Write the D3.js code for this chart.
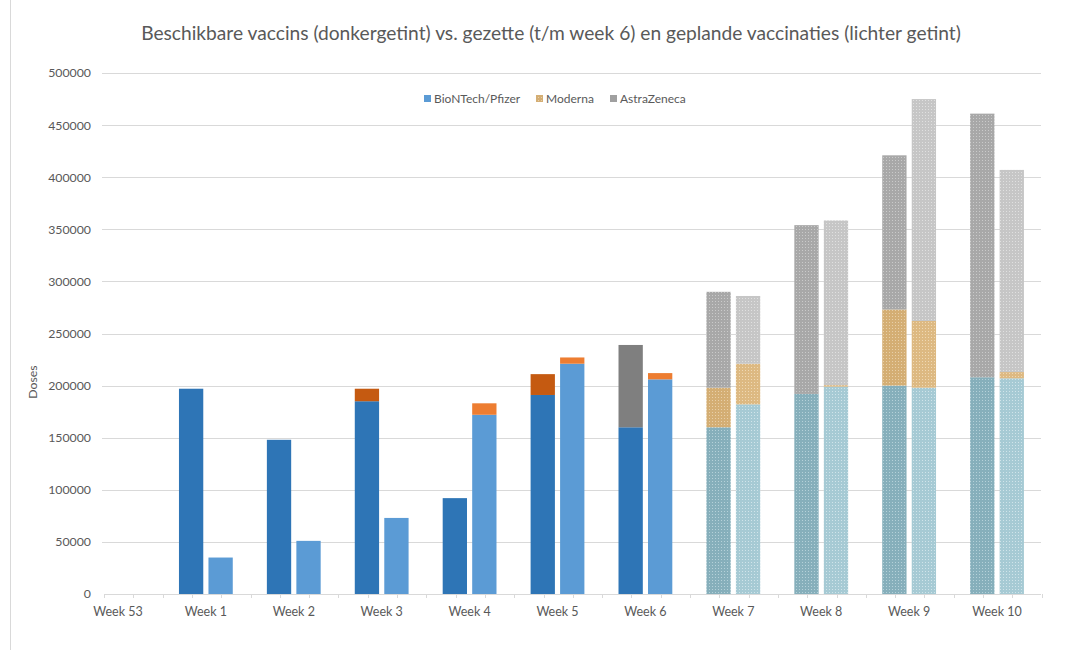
<!DOCTYPE html>
<html><head><meta charset="utf-8">
<script src="https://cdn.jsdelivr.net/npm/d3@7"></script>
<style>
html,body{margin:0;padding:0;background:#fff;}
svg{display:block;font-family:Lato,"Open Sans",sans-serif;}
</style></head>
<body><svg id="chart" width="1071" height="650"></svg>
<script>
const title = "Beschikbare vaccins (donkergetint) vs. gezette (t/m week 6) en geplande vaccinaties (lichter getint)";
const weeks = ["Week 53","Week 1","Week 2","Week 3","Week 4","Week 5","Week 6","Week 7","Week 8","Week 9","Week 10"];
const plannedWeeks = ["Week 7","Week 8","Week 9","Week 10"];
const vaccines = ["BioNTech/Pfizer","Moderna","AstraZeneca"];
// available (dark)
const pfizerAvailable  = [0,197000,148000,185000, 92000,191000,160000,160000,192000,200000,208000];
const modernaAvailable = [0,     0,     0, 12000,     0, 20000,     0, 38000,     0, 73000,     0];
const astraAvailable   = [0,     0,     0,     0,     0,     0, 79000, 92000,162000,148000,253000];
// administered / planned (light)
const pfizerGiven  = [0, 35000, 51000, 73000,172000,221000,206000,182000,199000,198000,207000];
const modernaGiven = [0,     0,     0,     0, 11000,  6000,  6000, 39000,  1500, 64000,  6000];
const astraGiven   = [0,     0,     0,     0,     0,     0,     0, 65000,158000,213000,194000];
const yTicks = [0,50000,100000,150000,200000,250000,300000,350000,400000,450000,500000];

const svg = d3.select("#chart");
const W = 1071, H = 650;
const plot = {left:104, right:1041, top:73, bottom:594};

// colors
const solid = {
  avail: {"BioNTech/Pfizer":"#2e75b6","Moderna":"#c55a11","AstraZeneca":"#7f7f7f"},
  given: {"BioNTech/Pfizer":"#5b9bd5","Moderna":"#ed7d31","AstraZeneca":"#a5a5a5"}
};
const planned = {
  avail: {"BioNTech/Pfizer":["#86afbb","#b5d1d9"],"Moderna":["#d4ae74","#e8cfa8"],"AstraZeneca":["#a8a8a8","#cacaca"]},
  given: {"BioNTech/Pfizer":["#a6cad4","#d0e4ea"],"Moderna":["#ddb982","#efd8b3"],"AstraZeneca":["#c6c6c6","#e0e0e0"]}
};
const defs = svg.append("defs");
let pid = 0;
const patId = {};
for (const kind of ["avail","given"]) {
  for (const v of vaccines) {
    const id = "pat" + (pid++);
    patId[kind + v] = id;
    const p = defs.append("pattern").attr("id", id).attr("patternUnits","userSpaceOnUse")
      .attr("width",3).attr("height",3);
    p.append("rect").attr("width",3).attr("height",3).attr("fill", planned[kind][v][0]);
    p.append("rect").attr("x",1).attr("y",1).attr("width",1).attr("height",1).attr("fill", planned[kind][v][1]);
  }
}
function fillFor(kind, vac, week) {
  if (plannedWeeks.includes(week)) return "url(#" + patId[kind + vac] + ")";
  return solid[kind][vac];
}

// frame line at left
svg.append("line").attr("x1",10.5).attr("x2",10.5).attr("y1",0).attr("y2",H)
  .attr("stroke","#d9d9d9").attr("stroke-width",1);

// title
svg.append("text").attr("x",551).attr("y",40).attr("text-anchor","middle")
  .attr("font-size",19.2).attr("fill","#595959").text(title);

const y = d3.scaleLinear().domain([0,500000]).range([plot.bottom, plot.top]);
const x = d3.scaleBand().domain(weeks).range([74, plot.right]).padding(0);
const xs = d3.scaleBand().domain(["avail","given"]).range([x.bandwidth()/2 - 26.9, x.bandwidth()/2 + 26.9])
  .paddingInner(0.176).paddingOuter(0);

// gridlines
svg.append("g").selectAll("line").data(yTicks.filter(d=>d>0)).join("line")
  .attr("x1",102).attr("x2",plot.right)
  .attr("y1",d=>Math.round(y(d))+0.5).attr("y2",d=>Math.round(y(d))+0.5)
  .attr("stroke","#d9d9d9").attr("stroke-width",1);

// y axis labels
const yAxis = d3.axisLeft(y).tickValues(yTicks).tickSize(0).tickPadding(0).tickFormat(d3.format("d"));
const yg = svg.append("g").attr("transform","translate(91,0)").call(yAxis);
yg.select(".domain").remove();
yg.selectAll("text").attr("font-size",12.3).attr("fill","#595959").attr("font-family","Lato,'Open Sans',sans-serif");

// y title
svg.append("text").attr("transform","translate(37,382) rotate(-90)").attr("text-anchor","middle")
  .attr("font-size",12.3).attr("fill","#595959").text("Doses");

// bars
const series = [
  {kind:"avail", data:[pfizerAvailable, modernaAvailable, astraAvailable]},
  {kind:"given", data:[pfizerGiven, modernaGiven, astraGiven]}
];
const barG = svg.append("g");
for (const s of series) {
  const rows = weeks.map((w,i)=>{ const r={week:w}; vaccines.forEach((v,j)=>r[v]=s.data[j][i]); return r; });
  const stacked = d3.stack().keys(vaccines)(rows);
  for (const layer of stacked) {
    barG.append("g").selectAll("rect").data(layer.filter(d=>d[1]-d[0]>0)).join("rect")
      .attr("x", d => x(d.data.week) + xs(s.kind))
      .attr("width", xs.bandwidth())
      .attr("y", d => y(d[1]))
      .attr("height", d => y(d[0]) - y(d[1]))
      .attr("fill", d => fillFor(s.kind, layer.key, d.data.week));
  }
}

// x axis
const step = x.step()/3;
const tickPos = d3.range(plot.left, plot.right + 1, step);
svg.append("line").attr("x1",plot.left).attr("x2",plot.right)
  .attr("y1",plot.bottom+0.5).attr("y2",plot.bottom+0.5).attr("stroke","#d9d9d9");
svg.append("g").selectAll("line").data(tickPos).join("line")
  .attr("x1",d=>Math.round(d)+0.5).attr("x2",d=>Math.round(d)+0.5)
  .attr("y1",plot.bottom).attr("y2",plot.bottom+4).attr("stroke","#d9d9d9");
svg.append("g").selectAll("text").data(weeks).join("text")
  .attr("x", d => x(d) + x.bandwidth()/2)
  .attr("y", 616).attr("text-anchor","middle")
  .attr("font-size",12.5).attr("fill","#595959").text(d=>d);

// legend
const legendItems = [
  {name:"BioNTech/Pfizer", x:424, fill: solid.given["BioNTech/Pfizer"]},
  {name:"Moderna", x:536, fill: "url(#" + patId["avail" + "Moderna"] + ")"},
  {name:"AstraZeneca", x:610, fill: "#a0a0a0"}
];
const lg = svg.append("g");
legendItems.forEach(it=>{
  lg.append("rect").attr("x",it.x).attr("y",95).attr("width",7).attr("height",7).attr("fill",it.fill);
  lg.append("text").attr("x",it.x+10).attr("y",102.5).attr("font-size",12).attr("fill","#595959").text(it.name);
});
</script></body></html>
